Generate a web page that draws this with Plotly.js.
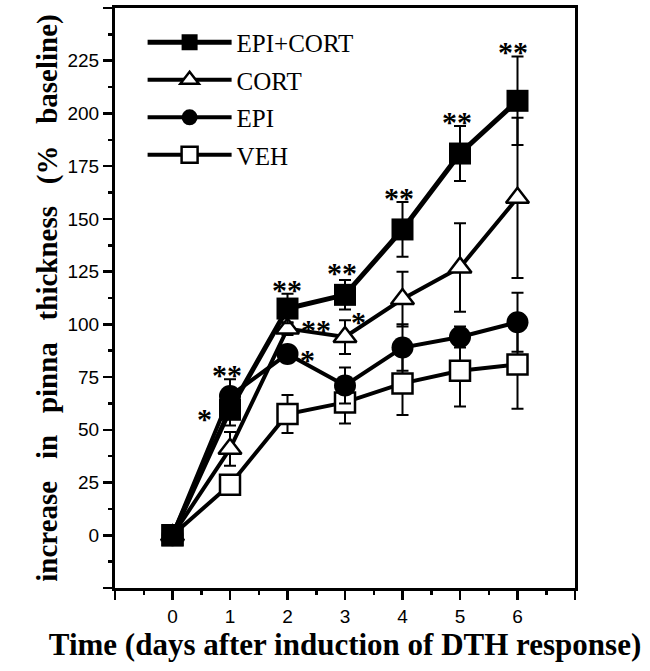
<!DOCTYPE html>
<html>
<head>
<meta charset="utf-8">
<script src="https://cdn.plot.ly/plotly-3.0.1.min.js"></script>
<style>
  html, body { margin: 0; padding: 0; background: #fff; }
  #chart { width: 650px; height: 671px; }
</style>
</head>
<body>
<div id="chart"></div>
<script>
const days = [0, 1, 2, 3, 4, 5, 6];

const epiCort = [0, 59.5, 107.5, 114, 145, 181, 206];
const epiCortErr = [2, 7.5, 7, 7, 13, 13, 21];
const cort = [0, 41, 98, 94, 112, 127, 160];
const cortErr = [2, 8, 3, 8, 13, 21, 38];
const epi = [0, 66, 86, 71, 89, 94, 101];
const epiErr = [2, 8, 3, 8.5, 11, 5, 14];
const veh = [0, 24, 57.5, 63, 72, 78, 81];
const vehErr = [2, 4, 9, 10, 15, 17, 21];

// significance marks
const starText = ["**", "*", "**", "**", "*", "*", "**", "**", "**", "**"];
const starX = [0.94, 0.56, 1.99, 2.49, 2.35, 3.24, 2.95, 3.94, 4.94, 5.93];
const starY = [79, 58, 119.5, 100.5, 86, 104, 127.6, 163, 199, 232];

const xTicks = [-1, 0, 1, 2, 3, 4, 5, 6, 7];
const xTickText = ["", "0", "1", "2", "3", "4", "5", "6", ""];
const yTicks = [-25, 0, 25, 50, 75, 100, 125, 150, 175, 200, 225, 250];
const yTickText = ["", "0", "25", "50", "75", "100", "125", "150", "175", "200", "225", ""];

const black = "#000";
const err = (a) => ({ type: "data", array: a, visible: true, color: black, thickness: 2, width: 6 });
const serif = "Liberation Serif, Times New Roman, serif";
const sans = "Liberation Sans, Arial, sans-serif";

const series = (name, rank, y, e, symbol, fill, lw, size) => ({
  x: days,
  y: y,
  name: name,
  legendgroup: name,
  legendrank: rank,
  type: "scatter",
  mode: "lines+markers",
  line: { color: black, width: lw },
  marker: { symbol: symbol, size: size, color: fill, line: { color: black, width: fill === black ? 0 : 2.5 } },
  error_y: err(e),
  cliponaxis: false,
});

const traces = [
  series("VEH", 4, veh, vehErr, "square", "#fff", 4, 20),
  series("EPI", 3, epi, epiErr, "circle", black, 4, 22),
  series("CORT", 2, cort, cortErr, "triangle-up", "#fff", 4, 20),
  series("EPI+CORT", 1, epiCort, epiCortErr, "square", black, 5, 22),
];

const axisBase = {
  showline: true,
  linecolor: black,
  linewidth: 3,
  mirror: true,
  showgrid: false,
  zeroline: false,
  ticks: "outside",
  tickcolor: black,
  tickwidth: 2.5,
  ticklen: 9,
  tickmode: "array",
  tickfont: { family: sans, size: 19, color: black },
  minor: { ticks: "outside", ticklen: 4, tickwidth: 2.5, tickcolor: black, showgrid: false },
};

const layout = {
  width: 650,
  height: 671,
  margin: { l: 115, r: 75, t: 8, b: 83 },
  paper_bgcolor: "#fff",
  plot_bgcolor: "#fff",
  showlegend: true,
  legend: {
    x: 0.06,
    y: 0.98,
    xanchor: "left",
    yanchor: "top",
    traceorder: "grouped",
    tracegroupgap: 2,
    itemwidth: 84,
    bgcolor: "rgba(0,0,0,0)",
    font: { family: serif, size: 25, color: black },
  },
  xaxis: {
    ...axisBase,
    range: [-1, 7],
    tickvals: xTicks,
    ticktext: xTickText,
    minor: { ...axisBase.minor, dtick: 0.5, tick0: -1 },
    title: {
      text: "Time (days after induction of DTH response)",
      font: { family: serif, size: 31, weight: "bold", color: black },
      standoff: 8,
    },
  },
  yaxis: {
    ...axisBase,
    range: [-25, 250],
    tickvals: yTicks,
    ticktext: yTickText,
    minor: { ...axisBase.minor, dtick: 12.5, tick0: -25 },
    title: {
      text: "increase\u00a0\u00a0 in\u00a0\u00a0 pinna\u00a0\u00a0 thickness\u00a0\u00a0 (%\u00a0\u00a0 baseline)",
      font: { family: serif, size: 29, weight: "bold", color: black },
      standoff: 2,
    },
  },
  annotations: starText.map((t, i) => ({
    x: starX[i],
    y: starY[i],
    text: t,
    showarrow: false,
    xanchor: "center",
    yanchor: "middle",
    yshift: -6,
    font: { family: serif, size: 30, weight: "bold", color: black },
  })),
};

Plotly.newPlot("chart", traces, layout, { displayModeBar: false, staticPlot: true });
</script>
</body>
</html>
